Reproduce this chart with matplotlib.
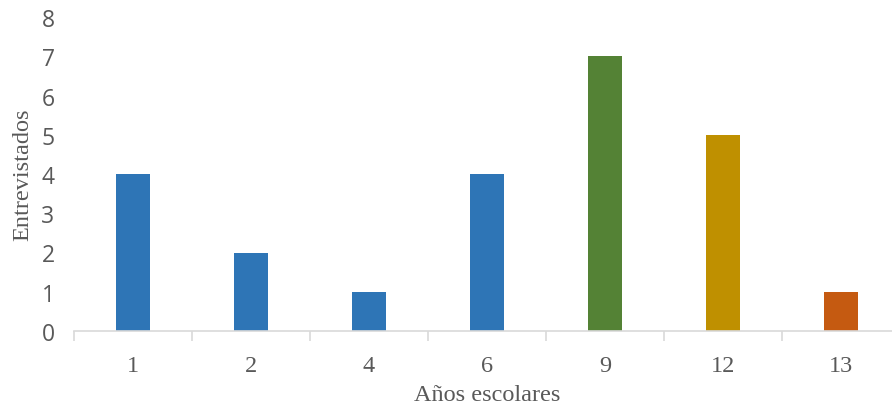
import matplotlib.pyplot as plt
from matplotlib.ticker import FixedLocator

# años escolares vs. número de entrevistados
years = ['1', '2', '4', '6', '9', '12', '13']
counts = [4, 2, 1, 4, 7, 5, 1]
colors = ['#2E75B6', '#2E75B6', '#2E75B6', '#2E75B6', '#548235', '#BF9000', '#C55A11']

fig = plt.figure(figsize=(8.92, 4.06), dpi=100)
ax = fig.add_axes([74 / 892, 74 / 406, 826 / 892, 314 / 406])

x = list(range(len(years)))
ax.bar(x, counts, width=0.28, color=colors, zorder=2)

ax.set_xlim(-0.5, len(years) - 0.5)
ax.set_ylim(0, 8)

for side in ('left', 'right', 'top'):
    ax.spines[side].set_visible(False)
ax.spines['bottom'].set_color('#D9D9D9')
ax.spines['bottom'].set_linewidth(1.2)

ax.set_xticks(x)
ax.set_xticklabels(years, family='Liberation Serif', fontsize=17.5, color='#595959')
ax.xaxis.set_minor_locator(FixedLocator([i - 0.5 for i in range(len(years) + 1)]))
ax.tick_params(axis='x', which='major', length=0, pad=17)
ax.tick_params(axis='x', which='minor', length=7, width=1.2, color='#D9D9D9')

ax.set_yticks(range(0, 9))
ax.set_yticklabels([str(v) for v in range(0, 9)], family='Open Sans', fontsize=16.5, color='#595959')
ax.tick_params(axis='y', length=0, pad=14)

ax.set_xlabel('Años escolares', family='Liberation Serif', fontsize=17.5, color='#595959', labelpad=6)
ax.set_ylabel('Entrevistados', family='Liberation Serif', fontsize=17.5, color='#595959', labelpad=6)

fig.savefig('out.png', dpi=100)
